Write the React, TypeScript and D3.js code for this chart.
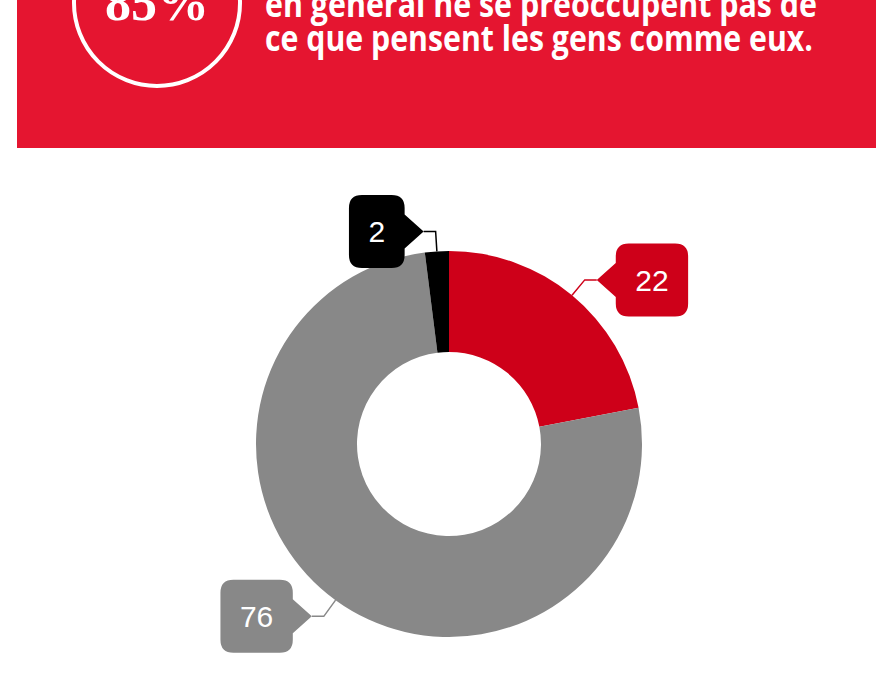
import React from "react";
import * as d3 from "d3";

const categories = ["Oui", "Non", "Sans opinion"];
const values = [22, 76, 2];
const colors = ["#CE0019", "#888888", "#000000"];
const headline = "85%";
const titleLines = [
  "en général ne se préoccupent pas de",
  "ce que pensent les gens comme eux.",
];

const W = 894;
const H = 675;

export default function App() {
  const cx = 449;
  const cy = 444;
  const R = 193;
  const r = 92;

  const pie = d3
    .pie<number>()
    .sort(null)
    .value((d) => d)
    .startAngle(0)
    .endAngle(2 * Math.PI);
  const arcs = pie(values);
  const arcGen = d3.arc<d3.PieArcDatum<number>>().innerRadius(r).outerRadius(R);

  const fs = 30;
  const labelDist = 20;

  return (
    <div style={{ position: "absolute", left: 0, top: 0 }}>
      <svg width={W} height={H} style={{ display: "block", background: "#fff" }}>
        {/* banner */}
        <rect x={17} y={0} width={859} height={148} fill="#E51530" />
        <circle cx={157} cy={3} r={83} fill="none" stroke="#fff" strokeWidth={4} />
        <text
          x={157}
          y={20}
          textAnchor="middle"
          fill="#fff"
          fontFamily="Liberation Serif, DejaVu Serif, serif"
          fontWeight="bold"
          fontSize={52}
        >
          {headline}
        </text>
        {titleLines.map((t, i) => (
          <text
            key={i}
            x={265}
            y={17 + i * 34}
            fill="#fff"
            fontFamily="Open Sans, sans-serif"
            fontWeight={700}
            fontSize={35}
            textLength={i === 0 ? 552 : 548}
            lengthAdjust="spacingAndGlyphs"
          >
            {t}
          </text>
        ))}

        {/* donut */}
        <g transform={`translate(${cx},${cy})`}>
          {arcs.map((a, i) => (
            <path key={i} d={arcGen(a) || ""} fill={colors[i]} />
          ))}
        </g>

        {/* labels */}
        {arcs.map((a, i) => {
          const mid = (a.startAngle + a.endAngle) / 2;
          const sx = Math.sin(mid);
          const sy = -Math.cos(mid);
          const ax = cx + R * sx;
          const ay = cy + R * sy;
          const bx = cx + (R + labelDist) * sx;
          const by = cy + (R + labelDist) * sy;
          const right = sx >= 0;
          const dir = right ? 1 : -1;
          const tx = bx + dir * 12;
          const ty = by;
          const label = String(values[i]);
          const tw = label.length * fs * 0.556;
          const bw = tw + 39;
          const bh = 73;
          const gap = 19;
          const x0 = right ? tx + gap : tx - gap - bw;
          const y0 = ty - bh / 2;
          const rr = 13;
          const x1 = x0 + bw;
          const y1 = y0 + bh;
          const hb = 17;
          let d = "";
          if (right) {
            d = `M${x0 + rr},${y0} L${x1 - rr},${y0} Q${x1},${y0} ${x1},${y0 + rr} L${x1},${y1 - rr} Q${x1},${y1} ${x1 - rr},${y1} L${x0 + rr},${y1} Q${x0},${y1} ${x0},${y1 - rr} L${x0},${ty + hb} L${tx},${ty} L${x0},${ty - hb} L${x0},${y0 + rr} Q${x0},${y0} ${x0 + rr},${y0} Z`;
          } else {
            d = `M${x0 + rr},${y0} L${x1 - rr},${y0} Q${x1},${y0} ${x1},${y0 + rr} L${x1},${ty - hb} L${tx},${ty} L${x1},${ty + hb} L${x1},${y1 - rr} Q${x1},${y1} ${x1 - rr},${y1} L${x0 + rr},${y1} Q${x0},${y1} ${x0},${y1 - rr} L${x0},${y0 + rr} Q${x0},${y0} ${x0 + rr},${y0} Z`;
          }
          return (
            <g key={i}>
              <polyline
                points={`${ax},${ay} ${bx},${by} ${tx},${ty}`}
                fill="none"
                stroke={colors[i]}
                strokeWidth={1.5}
              />
              <path d={d} fill={colors[i]} />
              <text
                x={x0 + bw / 2}
                y={ty + fs * 0.36}
                textAnchor="middle"
                fill="#fff"
                fontFamily="Liberation Sans, Arial, sans-serif"
                fontSize={fs}
              >
                {label}
              </text>
            </g>
          );
        })}
      </svg>
    </div>
  );
}
